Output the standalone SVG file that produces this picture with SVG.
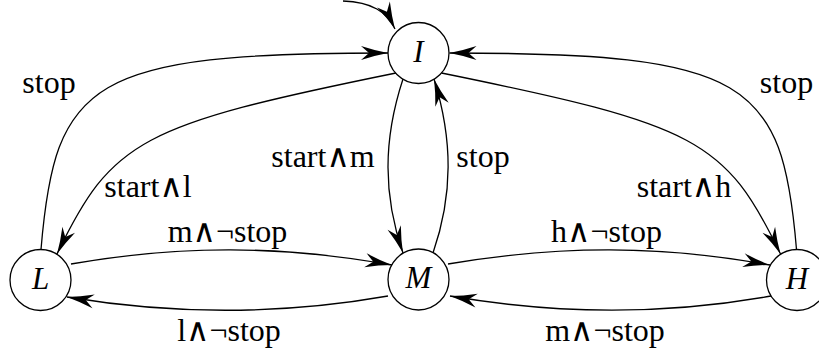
<svg xmlns="http://www.w3.org/2000/svg" width="819" height="354" viewBox="0 0 819 354">
<defs>
<marker id="arr" markerUnits="userSpaceOnUse" viewBox="-28 -9 30 18" markerWidth="30" markerHeight="18" refX="0" refY="0" orient="auto">
<path d="M0,0 Q-13,-2.4 -27,-7 L-19,0 L-27,7 Q-13,2.4 0,0 Z" fill="#000"/>
</marker>
<style>
.node circle{fill:#fff;stroke:#000;stroke-width:1.3}
.node text{font-family:"Liberation Serif","DejaVu Serif",serif;font-style:italic;font-size:31px;text-anchor:middle;fill:#000}
.edge{fill:none;stroke:#000;stroke-width:1.3;marker-end:url(#arr)}
.lbl{font-family:"Liberation Serif","DejaVu Serif",serif;font-size:32px;text-anchor:middle;fill:#000}
</style>
</defs>
<g id="connectors">
<path class="edge" d="M343,1 C372,2 387,12 395,29"/>
<path class="edge" d="M41,249.5 C55,80 90,53 388,53"/>
<path class="edge" d="M396,73 C140,125 112,140 57,254"/>
<path class="edge" d="M403,79 C383,140 383,195 403,253"/>
<path class="edge" d="M433,253 C453,195 453,140 434,79"/>
<path class="edge" d="M441.5,73 C697.5,125 725.5,140 780.5,254"/>
<path class="edge" d="M796.5,249.5 C782.5,80 747.5,53 449.5,53"/>
<path class="edge" d="M71,264 C180,245 280,245 392,265"/>
<path class="edge" d="M388,296 C280,315 175,315 67,297"/>
<path class="edge" d="M448,264 C560,245 660,245 770,265"/>
<path class="edge" d="M771,296 C665,315 560,315 450,296"/>
</g>
<g id="node-I" class="node"><circle cx="418.5" cy="53" r="30.5"/><text x="418.5" y="62">I</text></g>
<g id="node-L" class="node"><circle cx="40.5" cy="280" r="30.5"/><text x="40.5" y="289">L</text></g>
<g id="node-M" class="node"><circle cx="418.5" cy="279.5" r="30.5"/><text x="418.5" y="288">M</text></g>
<g id="node-H" class="node"><circle cx="797" cy="280" r="30.5"/><text x="797" y="289">H</text></g>
<g id="labels">
<text class="lbl" x="49" y="93">stop</text>
<text class="lbl" x="148" y="197">start∧l</text>
<text class="lbl" x="323" y="167">start∧m</text>
<text class="lbl" x="483" y="167">stop</text>
<text class="lbl" x="684" y="197">start∧h</text>
<text class="lbl" x="786.5" y="93">stop</text>
<text class="lbl" x="227.5" y="242">m∧¬stop</text>
<text class="lbl" x="606.5" y="242">h∧¬stop</text>
<text class="lbl" x="229" y="341">l∧¬stop</text>
<text class="lbl" x="605" y="341">m∧¬stop</text>
</g>
</svg>
